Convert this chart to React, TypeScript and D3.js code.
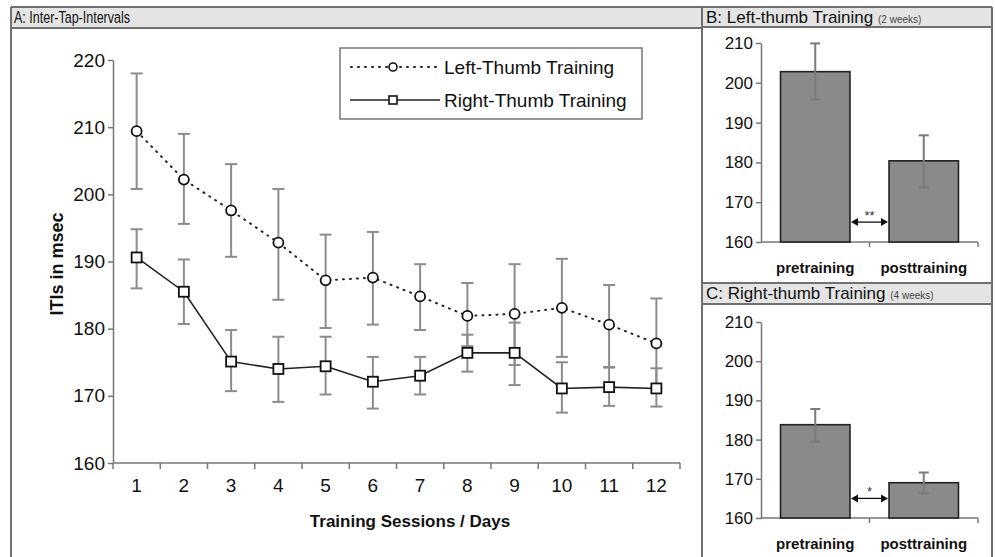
import React, { useEffect, useRef } from 'react';
import * as d3 from 'd3';

// Panel A: inter-tap intervals per session
const sessions = ['1', '2', '3', '4', '5', '6', '7', '8', '9', '10', '11', '12'];
const leftMean = [209.4, 202.2, 197.6, 192.8, 187.2, 187.6, 184.8, 181.9, 182.2, 183.1, 180.6, 177.8];
const leftHigh = [218.0, 209.0, 204.5, 200.8, 194.0, 194.4, 189.6, 186.8, 189.6, 190.4, 186.5, 184.5];
const leftLow = [200.8, 195.6, 190.7, 184.3, 180.1, 180.6, 179.8, 177.4, 174.6, 175.8, 174.3, 171.2];
const rightMean = [190.6, 185.5, 175.1, 174.0, 174.4, 172.1, 173.0, 176.4, 176.4, 171.1, 171.3, 171.1];
const rightHigh = [194.8, 190.3, 179.8, 178.8, 178.8, 175.8, 175.8, 179.1, 180.9, 175.0, 174.2, 174.1];
const rightLow = [186.0, 180.7, 170.7, 169.1, 170.2, 168.1, 170.2, 173.6, 171.6, 167.5, 168.5, 168.4];
const ticksA = [160, 170, 180, 190, 200, 210, 220];

// Panels B and C: pre vs post
const phases = ['pretraining', 'posttraining'];
const leftBars = [202.8, 180.4];
const leftBarsHigh = [209.9, 186.8];
const leftBarsLow = [195.8, 173.7];
const rightBars = [183.8, 169.0];
const rightBarsHigh = [187.8, 171.6];
const rightBarsLow = [179.5, 166.3];
const ticksBC = [160, 170, 180, 190, 200, 210];

const FONT = '"Liberation Sans", Arial, sans-serif';
const FRAME = '#707070';
const GREY_BAR = '#8a8a8a';
const ERR = '#8c8c8c';

const App: React.FC = () => {
  const svgRef = useRef<SVGSVGElement>(null);

  useEffect(() => {
    if (!svgRef.current) return;
    const svg = d3.select(svgRef.current);
    svg.selectAll('*').remove();

    svg.append('rect').attr('width', 995).attr('height', 557).attr('fill', '#fff');

    // headers
    const headers = [
      { x: 11, y: 7, w: 691, h: 21 },
      { x: 702, y: 7, w: 290, h: 20 },
      { x: 702, y: 283, w: 290, h: 21 },
    ];
    svg.selectAll('.hdr').data(headers).enter().append('rect')
      .attr('x', d => d.x).attr('y', d => d.y).attr('width', d => d.w).attr('height', d => d.h)
      .attr('fill', '#e4e4e4');

    const frameLines = [
      [11, 7, 11, 557], [11, 7, 992, 7], [992, 7, 992, 557], [702, 7, 702, 557],
      [11, 28, 702, 28], [702, 27, 992, 27], [702, 283, 992, 283], [702, 304, 992, 304],
    ];
    svg.selectAll('.frame').data(frameLines).enter().append('line')
      .attr('x1', d => d[0]).attr('y1', d => d[1]).attr('x2', d => d[2]).attr('y2', d => d[3])
      .attr('stroke', FRAME).attr('stroke-width', 2);

    // condensed header like the original's narrow face
    svg.append('text').attr('x', 14).attr('y', 23).attr('font-family', FONT).attr('font-size', 16)
      .attr('textLength', 116).attr('lengthAdjust', 'spacingAndGlyphs')
      .attr('fill', '#111').text('A: Inter-Tap-Intervals');

    const hB = svg.append('text').attr('x', 706).attr('y', 23).attr('font-family', FONT)
      .attr('font-size', 17).attr('fill', '#111');
    hB.append('tspan').text('B: Left-thumb Training ');
    hB.append('tspan').attr('font-size', 10).attr('fill', '#444').text('(2 weeks)');

    const hC = svg.append('text').attr('x', 706).attr('y', 299).attr('font-family', FONT)
      .attr('font-size', 17).attr('fill', '#111');
    hC.append('tspan').text('C: Right-thumb Training ');
    hC.append('tspan').attr('font-size', 10).attr('fill', '#444').text('(4 weeks)');

    // ---------- Panel A ----------
    const xA = d3.scaleBand().domain(sessions).range([113, 680]);
    const yA = d3.scaleLinear().domain([160, 220]).range([463, 60]);
    const cx = (d: string) => (xA(d) || 0) + xA.bandwidth() / 2;

    const axY = svg.append('g').attr('transform', 'translate(113,0)')
      .call(d3.axisLeft(yA).tickValues(ticksA).tickSize(5).tickSizeOuter(0).tickPadding(3));
    axY.select('.domain').attr('stroke', '#777').attr('stroke-width', 1.5);
    axY.selectAll('.tick line').attr('stroke', '#777').attr('stroke-width', 1.5);
    axY.selectAll('.tick text').attr('font-family', FONT).attr('font-size', 19).attr('fill', '#111');

    svg.append('line').attr('x1', 113).attr('x2', 680).attr('y1', 463).attr('y2', 463)
      .attr('stroke', '#777').attr('stroke-width', 1.5);
    svg.selectAll('.xtickA').data(d3.range(sessions.length + 1)).enter().append('line')
      .attr('x1', i => 113 + i * xA.step()).attr('x2', i => 113 + i * xA.step())
      .attr('y1', 463).attr('y2', 469).attr('stroke', '#777').attr('stroke-width', 1.5);
    svg.selectAll('.xlabA').data(sessions).enter().append('text')
      .attr('x', d => cx(d)).attr('y', 492).attr('text-anchor', 'middle')
      .attr('font-family', FONT).attr('font-size', 19).attr('fill', '#111').text(d => d);

    svg.append('text').attr('x', 410).attr('y', 527).attr('text-anchor', 'middle')
      .attr('font-family', FONT).attr('font-size', 17).attr('font-weight', 'bold').attr('fill', '#111')
      .text('Training Sessions / Days');
    svg.append('text').attr('transform', 'translate(63,264) rotate(-90)').attr('text-anchor', 'middle')
      .attr('font-family', FONT).attr('font-size', 18).attr('font-weight', 'bold').attr('fill', '#111')
      .text('ITIs in msec');

    const errA = (high: number[], low: number[]) => {
      const g = svg.append('g').attr('stroke', ERR).attr('stroke-width', 2);
      sessions.forEach((s, i) => {
        const x = cx(s);
        g.append('line').attr('x1', x).attr('x2', x).attr('y1', yA(high[i])).attr('y2', yA(low[i]));
        g.append('line').attr('x1', x - 6).attr('x2', x + 6).attr('y1', yA(high[i])).attr('y2', yA(high[i]));
        g.append('line').attr('x1', x - 6).attr('x2', x + 6).attr('y1', yA(low[i])).attr('y2', yA(low[i]));
      });
    };
    errA(leftHigh, leftLow);
    errA(rightHigh, rightLow);

    const line = d3.line<number>().x((_, i) => cx(sessions[i])).y(d => yA(d));
    svg.append('path').attr('d', line(leftMean)).attr('fill', 'none').attr('stroke', '#222')
      .attr('stroke-width', 2).attr('stroke-dasharray', '1,6').attr('stroke-linecap', 'round');
    svg.append('path').attr('d', line(rightMean)).attr('fill', 'none').attr('stroke', '#222')
      .attr('stroke-width', 1.6);

    svg.selectAll('.ptL').data(leftMean).enter().append('circle')
      .attr('cx', (_, i) => cx(sessions[i])).attr('cy', d => yA(d)).attr('r', 5)
      .attr('fill', '#fff').attr('stroke', '#111').attr('stroke-width', 1.8);
    svg.selectAll('.ptR').data(rightMean).enter().append('rect')
      .attr('x', (_, i) => cx(sessions[i]) - 5).attr('y', d => yA(d) - 5).attr('width', 10).attr('height', 10)
      .attr('fill', '#fff').attr('stroke', '#111').attr('stroke-width', 1.8);

    // legend
    const lg = svg.append('g');
    lg.append('rect').attr('x', 340).attr('y', 48).attr('width', 302).attr('height', 71)
      .attr('fill', '#fff').attr('stroke', '#777').attr('stroke-width', 1.5);
    lg.append('line').attr('x1', 351).attr('x2', 440).attr('y1', 67).attr('y2', 67).attr('stroke', '#222')
      .attr('stroke-width', 2).attr('stroke-dasharray', '1,6').attr('stroke-linecap', 'round');
    lg.append('circle').attr('cx', 393).attr('cy', 67).attr('r', 4).attr('fill', '#fff')
      .attr('stroke', '#111').attr('stroke-width', 1.6);
    lg.append('line').attr('x1', 350).attr('x2', 440).attr('y1', 100).attr('y2', 100).attr('stroke', '#222')
      .attr('stroke-width', 1.6);
    lg.append('rect').attr('x', 389).attr('y', 96).attr('width', 8).attr('height', 8).attr('fill', '#fff')
      .attr('stroke', '#111').attr('stroke-width', 1.6);
    lg.append('text').attr('x', 444).attr('y', 74).attr('font-family', FONT).attr('font-size', 19)
      .attr('fill', '#111').text('Left-Thumb Training');
    lg.append('text').attr('x', 444).attr('y', 107).attr('font-family', FONT).attr('font-size', 19)
      .attr('fill', '#111').text('Right-Thumb Training');

    // ---------- Panels B and C ----------
    const barPanel = (top: number, bottom: number, vals: number[], high: number[], low: number[], star: string) => {
      const x = d3.scaleBand().domain(phases).range([761, 978]).paddingInner(0.36).paddingOuter(0.18);
      const y = d3.scaleLinear().domain([160, 210]).range([bottom, top]);
      const ax = svg.append('g').attr('transform', 'translate(761,0)')
        .call(d3.axisLeft(y).tickValues(ticksBC).tickSize(5).tickSizeOuter(0).tickPadding(3));
      ax.select('.domain').attr('stroke', '#777').attr('stroke-width', 1.5);
      ax.selectAll('.tick line').attr('stroke', '#777').attr('stroke-width', 1.5);
      ax.selectAll('.tick text').attr('font-family', FONT).attr('font-size', 17).attr('fill', '#111');

      const x0 = (x(phases[0]) || 0) + x.bandwidth();
      const x1 = x(phases[1]) || 0;

      svg.append('line').attr('x1', 761).attr('x2', 978).attr('y1', bottom).attr('y2', bottom)
        .attr('stroke', '#777').attr('stroke-width', 1.5);
      [(x0 + x1) / 2, 978].forEach(t => {
        svg.append('line').attr('x1', t).attr('x2', t).attr('y1', bottom).attr('y2', bottom + 5)
          .attr('stroke', '#777').attr('stroke-width', 1.5);
      });

      svg.selectAll(null).data(vals).enter().append('rect')
        .attr('x', (_, i) => x(phases[i]) || 0).attr('y', d => y(d))
        .attr('width', x.bandwidth()).attr('height', d => bottom - y(d))
        .attr('fill', GREY_BAR).attr('stroke', '#222').attr('stroke-width', 1.6);

      const g = svg.append('g').attr('stroke', '#7a7a7a').attr('stroke-width', 2);
      phases.forEach((p, i) => {
        const c = (x(p) || 0) + x.bandwidth() / 2;
        g.append('line').attr('x1', c).attr('x2', c).attr('y1', y(high[i])).attr('y2', y(low[i]));
        g.append('line').attr('x1', c - 5).attr('x2', c + 5).attr('y1', y(high[i])).attr('y2', y(high[i]));
        g.append('line').attr('x1', c - 5).attr('x2', c + 5).attr('y1', y(low[i])).attr('y2', y(low[i]));
      });

      svg.selectAll(null).data(phases).enter().append('text')
        .attr('x', d => (x(d) || 0) + x.bandwidth() / 2).attr('y', bottom + 31).attr('text-anchor', 'middle')
        .attr('font-family', FONT).attr('font-size', 15).attr('font-weight', 'bold').attr('fill', '#111')
        .text(d => d);

      // significance arrow
      const ya = y(165);
      const a0 = x0 + 1;
      const a1 = x1 - 1;
      svg.append('line').attr('x1', a0 + 6).attr('x2', a1 - 6).attr('y1', ya).attr('y2', ya)
        .attr('stroke', '#111').attr('stroke-width', 1.3);
      svg.append('path').attr('d', `M${a0},${ya} l7,-4 v8 z M${a1},${ya} l-7,-4 v8 z`).attr('fill', '#111');
      svg.append('text').attr('x', (a0 + a1) / 2).attr('y', ya - 2).attr('text-anchor', 'middle')
        .attr('font-family', FONT).attr('font-size', 13).attr('fill', '#333').text(star);
    };

    barPanel(43, 242, leftBars, leftBarsHigh, leftBarsLow, '**');
    barPanel(322, 518, rightBars, rightBarsHigh, rightBarsLow, '*');
  }, []);

  return (
    <svg ref={svgRef} width={995} height={557}
      style={{ position: 'absolute', left: 0, top: 0, display: 'block' }} />
  );
};

export default App;
